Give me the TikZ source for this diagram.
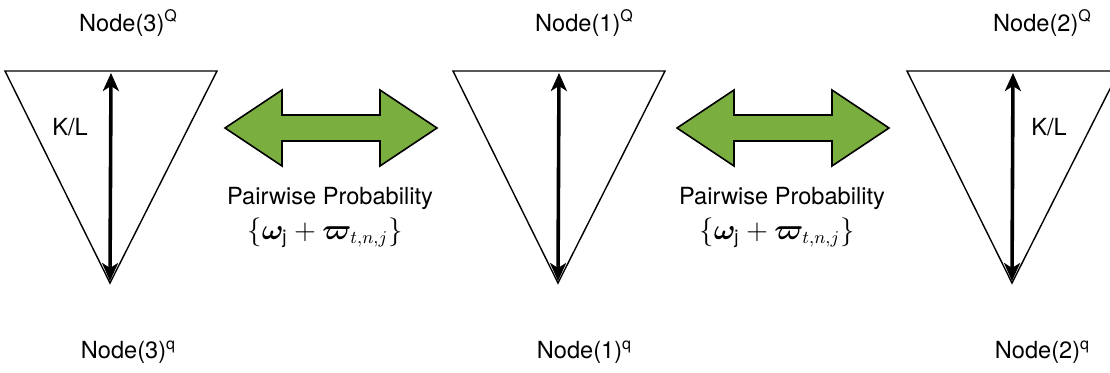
\documentclass[tikz,border=0pt]{standalone}
\usepackage{amsmath}
\usepackage{bm}
\usepackage{fontspec}
\setmainfont{TeX Gyre Heros}
\usetikzlibrary{arrows.meta}
\definecolor{arrowgreen}{RGB}{122,174,62}
\newcommand{\supq}[1]{\raisebox{0.75ex}{\fontsize{8}{8}\selectfont #1}}

\begin{document}
\begin{tikzpicture}[x=0.5pt,y=-0.5pt,line width=0.7pt,
  >={Stealth[length=9pt,width=8pt,inset=2.5pt]},
  every node/.style={font=\fontsize{11.8}{14}\selectfont,inner sep=0pt},
  klarrow/.style={<->,line width=1.8pt},
  eqlabel/.style={font=\fontsize{13.5}{16}\selectfont},
  greenarrow/.style={fill=arrowgreen,line width=0.8pt,line join=miter}]
\useasboundingbox (0,0) rectangle (1110,372);
\clip (0,0) rectangle (1110,372);
% ---------- triangles ----------
\foreach \tx/\tn in {5/three,453/one,907/two} {
  \coordinate (\tn-l) at (\tx,71);
  \coordinate (\tn-r) at (\tx+212,71);
  \coordinate (\tn-b) at (\tx+105,283);
  \coordinate (\tn-t) at (\tx+106,73);
  \coordinate (\tn-a) at (\tx+105,281);
  \draw (\tn-l) -- (\tn-r) -- (\tn-b) -- cycle;
  % K/L 双向箭头
  \draw[klarrow] (\tn-a) -- (\tn-t);
}
% ---------- labels ----------
\node (n3Q) at (128,23) {Node(3)\supq{Q}};
\node (n1Q) at (584,23) {Node(1)\supq{Q}};
\node (n2Q) at (1042,23) {Node(2)\supq{Q}};
\node (n3q) at (128,352) {Node(3)\supq{q}};
\node (n1q) at (584,352) {Node(1)\supq{q}};
\node (n2q) at (1042,352) {Node(2)\supq{q}};
\node (kl3) at (70,127) {K/L};
\node (kl2) at (1049,127) {K/L};
% ---------- green double arrows ----------
\foreach \ax/\an in {225/pa,677/pb} {
  \draw[greenarrow] (\ax,128) -- ++(57,-38) -- ++(0,25) -- ++(98,0)
    -- ++(0,-25) -- ++(57,38) -- ++(-57,38) -- ++(0,-25) -- ++(-98,0)
    -- ++(0,25) -- cycle;
  \node (\an-txt) at (\ax+105,198) {Pairwise Probability};
  \node[eqlabel] (\an-eq) at (\ax+100,233) {$\{\bm{\omega}_{\mathrm{j}} + \bm{\varpi}_{t,n,j}\}$};
}
\end{tikzpicture}
\end{document}
